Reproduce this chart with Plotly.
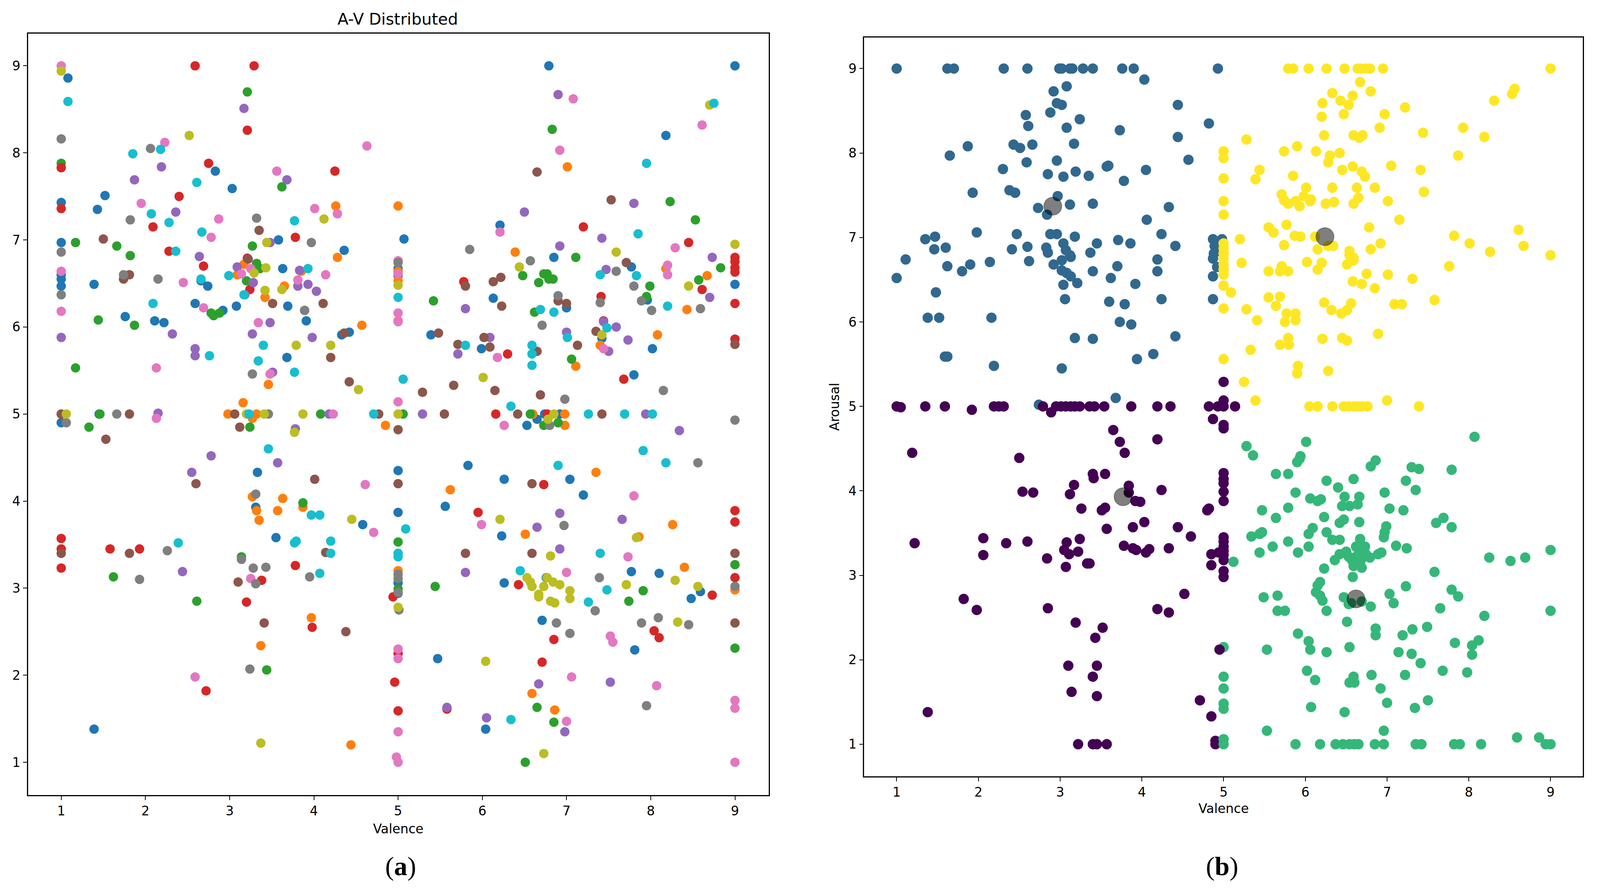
import plotly.graph_objects as go

# panel (a): one colour per group, tab10 order, (valence, arousal)
blue = [(1.08,8.86),(1.52,7.51),(1.43,7.35),(1,7.43),(1,6.97),(1,6.6),(1,6.55),(1,6.47),(2.83,7.79),(3.03,7.59),
        (3.58,7.0),(3.63,6.67),(4.36,6.88),(1.39,6.49),(1.76,6.12),(2.11,6.07),(2.22,6.05),(2.59,6.27),(2.66,6.53),
        (2.74,6.47),(2.92,6.19),(3.08,6.24),(3.69,6.24),(3.91,6.07),(3.68,5.65),(4.33,5.91),(4.42,5.94),(5.07,7.01),
        (5,6.67),(5,6.59),(1.45,5.0),(1,4.9),(6.79,9),(9,9),(8.18,8.2),(6.21,7.17),(6.85,6.8),(7.77,6.69),(7.96,6.31),
        (6.13,6.33),(7,6.22),(5.39,5.91),(5.99,5.75),(8.02,5.75),(7.8,5.45),(9,6.49),(7.42,5.87),(6.74,5.0),(6.92,5),
        (6.65,4.94),(6.53,4.87),(5.83,4.41),(6.26,4.25),(7.04,4.25),(7.2,4.07),(5.56,3.94),(6.23,3.6),(7.77,3.19),
        (8.1,3.17),(6.76,3.12),(6.26,3.06),(8.59,2.96),(8.48,2.88),(6.71,2.63),(7.81,2.29),(5.47,2.19),(6.04,1.38),
        (5,4.35),(5,3.87),(5,3.06),(5,2.94),(1.39,1.38),(3.33,4.33),(3.31,3.93),(3.55,3.58),(4.58,3.73)]
orange = [(4.26,7.39),(5,7.39),(4.28,6.8),(3.85,6.64),(3.65,6.47),(3.42,6.34),(4.57,6.02),(3.46,5.34),(3.16,5.13),
          (2.98,5.0),(3.27,4.95),(3.32,5.0),(3.17,6.72),(3.09,6.6),(4.85,4.87),(1,5),(5,6.07),(5,6.64),(5,6.53),
          (7.01,7.84),(6.39,6.86),(8.67,6.59),(8.18,6.67),(8.43,6.2),(8.08,5.91),(7.4,5.79),(7.11,5.55),(6.98,5),
          (6.98,4.87),(6.6,5),(5.62,4.13),(7.35,4.33),(8.26,3.73),(6.51,3.62),(7.86,3.59),(8.4,3.24),(9,2.98),
          (6.59,1.79),(6.86,1.6),(4.44,1.2),(3.37,2.34),(3.97,2.66),(3.27,4.05),(3.63,4.03),(3.32,3.89),(3.35,3.78),
          (3.57,3.89),(3.87,3.93),(5,3.2)]
green = [(3.21,8.7),(3.62,7.61),(1.17,6.97),(1.66,6.93),(1.82,6.82),(1,7.88),(3.27,6.93),(3.32,6.73),(3.36,6.67),
         (3.2,6.53),(1.44,6.08),(1.87,6.02),(2.78,6.16),(2.81,6.13),(2.88,6.16),(1.17,5.53),(1.46,5),(4.08,5),(5.06,5),
         (1.33,4.85),(3.24,4.85),(6.83,8.27),(8.23,7.44),(8.53,7.23),(7.11,6.8),(6.48,6.59),(6.67,6.51),(6.73,6.61),
         (6.77,6.61),(6.79,6.55),(6.84,6.55),(8.57,6.54),(8.83,6.68),(7.99,6.47),(7.95,6.35),(5.42,6.3),(6.62,6.17),
         (7.06,5.63),(6.57,5),(6.73,4.87),(6.9,4.9),(5.44,3.02),(7.91,2.97),(7.74,2.85),(9,3.27),(9,2.31),(6.65,1.63),
         (6.85,1.46),(6.51,1.0),(5,3.53),(5,2.99),(3.14,3.36),(1.62,3.13),(2.61,2.85),(3.44,2.06),(3.87,3.98)]
red = [(2.59,9),(3.29,9),(3.21,8.26),(2.75,7.88),(1,7.83),(1,7.36),(2.4,7.5),(2.09,7.15),(2.28,6.87),(2.69,6.7),
       (3.21,6.79),(3.24,6.43),(4.25,7.79),(3.78,7.03),(7.2,7.15),(8.45,6.97),(9,6.8),(9,6.75),(9,6.68),(9,6.63),
       (5.78,6.52),(7.41,6.35),(8.61,6.43),(9,6.27),(7.44,6.07),(6.3,5.69),(9,5.86),(7.68,5.4),(6.16,5),(6.77,5),
       (6.73,4.19),(5.95,3.87),(9,3.89),(9,3.76),(6.43,3.04),(9,3.12),(8.73,2.92),(8.04,2.51),(8.1,2.43),(6.85,2.41),
       (6.71,2.15),(5.58,1.61),(1,3.57),(1,3.45),(1,3.23),(1.58,3.45),(1.93,3.45),(3.78,3.26),(3.38,3.09),(3.2,2.84),
       (2.72,1.82),(3.98,2.55),(5,2.25),(4.96,1.92),(5,1.59),(4.94,2.9)]
purple = [(3.17,8.51),(2.19,7.84),(1.87,7.69),(3.68,7.69),(2.36,7.32),(2.64,6.81),(3.09,6.69),(3.28,6.51),(3.48,6.97),
          (3.83,6.65),(3.81,6.47),(3.93,6.49),(4.03,6.41),(1,5.88),(2.32,5.92),(2.59,5.75),(2.59,5.67),(3.27,5.92),
          (3.48,6.05),(3.98,5.88),(3.51,5.48),(2.15,5.01),(4.18,5),(3.78,4.83),(3.18,6.37),(6.9,8.67),(6.5,7.32),
          (7.42,7.02),(6.92,6.93),(8.73,6.8),(7.47,6.66),(5.8,6.21),(8.7,6.34),(7.59,6.0),(7.44,6.06),(7,5.94),
          (7.73,5.85),(6.09,5.88),(5.71,5.69),(7.5,5.72),(7.8,7.42),(5.29,5),(7.94,5),(8.34,4.81),(6.92,3.86),
          (7.66,3.79),(6.65,3.7),(6.92,3.45),(5.8,3.18),(6.67,1.9),(7.52,1.92),(5.58,1.63),(6.05,1.51),(6.98,1.35),
          (2.78,4.52),(2.55,4.33),(3.57,4.44),(2.44,3.19)]
brown = [(1.5,7.01),(3.35,7.11),(3.22,6.78),(1.81,6.6),(1.74,6.55),(3.51,6.27),(4.11,6.27),(3.89,6.19),(4.2,5.65),
         (4.42,5.37),(1,5),(1.81,5),(3.06,5),(3.12,4.85),(4.77,5),(5,4.82),(4.36,5.93),(7.53,7.46),(6.65,7.78),
         (7.71,6.74),(5.8,6.47),(6.13,6.52),(6.22,6.57),(6.23,6.24),(6.9,6.3),(7,6.27),(5.48,5.93),(7.35,5.95),
         (6.02,5.88),(5.71,5.8),(6.09,5.77),(6.65,5.72),(7.13,5.79),(9,5.8),(5.29,5.25),(5.66,5.33),(6.15,5.27),
         (6.69,5.22),(5.55,5),(6.42,5),(7.42,5),(6.59,4.2),(5.8,3.4),(6.59,3.4),(9,3.4),(9,2.6),(1.53,4.71),(2.6,4.2),
         (4.01,4.25),(5,4.2),(1,3.4),(1.81,3.4),(4.14,3.41),(3.1,3.07),(3.41,2.6),(4.38,2.5)]
pink = [(1,9),(2.23,8.12),(4.63,8.08),(3.56,7.79),(1.95,7.42),(4.01,7.36),(4.28,7.3),(2.87,7.24),(2.78,7.03),(1,6.64),
        (2.45,6.51),(3.14,6.61),(3.25,6.67),(4.14,6.6),(3.81,6.54),(2.69,6.22),(1,6.18),(3.34,6.05),(2.13,5.53),
        (3.48,5.46),(5,5.14),(4.23,5),(2.13,4.95),(5,6.76),(5,6.61),(5,6.16),(5,6.06),(7.08,8.62),(6.92,8.03),
        (8.61,8.32),(6.21,7.09),(8.29,6.91),(8.2,6.71),(8.2,6.6),(7.44,5.75),(6.18,5.65),(6.26,4.87),(7.8,4.06),
        (5.99,3.73),(7.73,3.36),(7,3.18),(7.52,2.45),(7.55,2.38),(7.06,1.98),(8.07,1.88),(9,1.71),(9,1.62),(7,1.47),
        (9,1),(4.61,4.19),(4.71,3.64),(3.25,3.11),(2.59,1.98),(5,2.3),(5,2.19),(5,1.35),(4.98,1.06),(5,1.0)]
gray = [(1,8.16),(2.06,8.05),(1.82,7.23),(3.32,7.25),(1,6.86),(3.97,6.97),(1.74,6.6),(2.15,6.55),(1,6.37),(3.89,6.19),
        (3.27,5.46),(1.66,5),(3.46,5),(5,6.74),(1.06,4.9),(5.85,6.89),(6.57,6.76),(7.59,6.64),(7.8,6.47),(7.89,6.3),
        (6.9,6.36),(7.4,6.28),(8.01,6.19),(8.59,6.21),(6.71,6.02),(8.15,5.27),(6.98,5.17),(9,4.93),(6.8,4.87),
        (8.56,4.44),(6.97,3.72),(7.39,3.12),(7.34,2.74),(6.88,2.6),(7.04,2.48),(7.89,2.6),(8.09,2.66),(8.45,2.58),
        (9,3.02),(7.95,1.65),(3.31,4.08),(3.14,3.33),(2.26,3.43),(1.93,3.1),(3.28,3.23),(3.43,3.24),(3.31,3.05),
        (3.95,3.13),(3.24,2.07),(5,3.16),(5,3.11),(5,2.95),(5.01,2.75)]
olive = [(1,8.94),(2.52,8.2),(3.44,6.97),(4.12,7.24),(3.43,6.68),(3.29,6.62),(3.42,6.42),(3.62,6.43),(3.79,5.79),
         (4.2,5.79),(4.53,5.28),(1.06,5),(3.2,5),(3.41,5),(3.87,5),(5,5),(5,6.48),(8.7,8.55),(9,6.95),(6.44,6.69),
         (7.59,6.86),(8.45,6.47),(6.01,5.42),(7.42,5.91),(6.85,5),(6.78,4.94),(6.21,3.79),(7.83,3.58),(6.81,3.37),
         (6.53,3.12),(6.57,3.07),(6.59,3.02),(6.77,3.12),(6.73,3.02),(6.84,3.07),(6.92,3.04),(6.67,2.93),(6.67,2.9),
         (7.04,2.97),(7.04,2.88),(6.81,2.85),(6.86,2.83),(7.71,3.04),(8.29,3.09),(8.56,3.02),(8.32,2.61),(6.04,2.16),
         (6.73,1.1),(4.45,3.79),(3.77,4.79),(3.37,1.22),(5,2.78),(5,3.4)]
cyan = [(1.08,8.59),(1.85,7.99),(2.18,8.04),(2.61,7.66),(2.07,7.3),(2.28,7.2),(2.67,7.09),(2.36,6.87),(3.77,7.22),
        (3.93,6.67),(2.99,6.59),(2.66,6.55),(3.17,6.37),(2.09,6.27),(5,6.34),(3.4,5.79),(2.76,5.67),(3.34,5.61),
        (3.77,5.48),(5.06,5.4),(4.71,5),(3.23,5),(8.75,8.57),(7.95,7.88),(7.85,7.07),(7.4,6.6),(7.83,6.59),(6.69,6.2),
        (6.85,6.17),(7.48,5.99),(7.01,5.88),(5.8,5.79),(6.59,5.79),(6.59,5.69),(6.59,5.56),(8.2,6.24),(6.34,5.09),
        (7.26,5),(7.69,5),(8.02,5),(7.91,4.58),(8.18,4.44),(6.9,4.41),(5.09,3.68),(7.4,3.4),(6.45,3.2),(7.48,2.98),
        (7.26,2.84),(6.34,1.49),(3.46,4.6),(3.97,3.84),(4.07,3.84),(2.39,3.52),(3.79,3.54),(3.77,3.52),(4.2,3.54),
        (4.2,3.4),(4.07,3.17),(5,3.4),(5,3.36)]

# panel (b): k-means clusters
teal = [(1,9),(1.62,9),(1.7,9),(2.31,9),(2.6,9),(2.99,9),(3.02,9),(3.12,9),(3.15,9),(3.28,9),(3.4,9),(3.76,9),(3.9,9),
        (4.93,9),(4.03,8.87),(3.08,8.79),(2.92,8.73),(2.96,8.59),(3.02,8.57),(2.88,8.48),(2.58,8.45),(2.61,8.32),
        (3.24,8.4),(3.08,8.3),(3.73,8.27),(4.44,8.57),(4.44,8.19),(4.82,8.35),(4.57,7.92),(2.43,8.1),(2.51,8.06),
        (2.66,8.1),(3.17,8.11),(1.87,8.08),(1.65,7.97),(2.59,7.89),(2.96,7.91),(2.3,7.81),(2.85,7.75),(3.04,7.72),
        (3.19,7.78),(3.35,7.73),(3.57,7.84),(3.59,7.85),(3.78,7.67),(4.05,7.8),(1.93,7.53),(2.38,7.56),(2.45,7.53),
        (2.97,7.49),(2.73,7.35),(3.12,7.39),(3.4,7.4),(4.33,7.36),(2.84,7.27),(4.06,7.21),(2.47,7.04),(2.88,7.04),
        (2.96,7.04),(3.18,7.01),(4.24,7.04),(1.98,7.06),(1.47,7.01),(1.35,6.98),(1.46,6.86),(1.6,6.88),(1.11,6.74),
        (3.71,6.97),(3.86,6.93),(3.45,6.93),(4.41,6.9),(3.04,6.93),(2.6,6.89),(2.41,6.86),(2.83,6.88),(2.85,6.82),
        (3.07,6.85),(3.37,6.82),(3.12,6.79),(2.62,6.72),(1.62,6.66),(1.9,6.68),(1.8,6.6),(2.14,6.71),(3.13,6.77),
        (3.02,6.73),(2.92,6.68),(3.02,6.61),(3.08,6.58),(3.13,6.54),(3.7,6.66),(4.19,6.74),(4.19,6.6),(3.4,6.6),
        (3.62,6.52),(3.92,6.45),(1,6.52),(3.21,6.46),(3.04,6.44),(1.48,6.35),(3.06,6.27),(3.6,6.24),(3.79,6.21),
        (4.24,6.27),(3.73,6.0),(3.87,5.97),(1.38,6.05),(1.52,6.05),(2.16,6.05),(3.18,5.81),(3.4,5.8),(4.41,5.83),
        (1.59,5.59),(1.62,5.59),(3.94,5.56),(4.14,5.62),(2.19,5.48),(3.02,5.45),(3.68,5.1),(2.74,5.02),(4.87,6.98),
        (4.98,6.98),(4.89,6.9),(4.88,6.81),(4.87,6.75),(4.92,6.65),(4.87,6.54),(4.87,6.27),(4.94,6.84)]
yellow = [(5.79,9),(5.85,9),(6.04,9),(6.26,9),(6.48,9),(6.64,9),(6.68,9),(6.74,9),(6.79,9),(6.95,9),(9,9),(6.67,8.84),
          (6.8,8.73),(6.33,8.71),(6.58,8.68),(6.43,8.62),(6.21,8.59),(6.53,8.57),(6.2,8.43),(6.47,8.46),(6.97,8.46),
          (7.22,8.54),(6.91,8.3),(7.44,8.24),(8.56,8.76),(8.53,8.7),(8.31,8.62),(7.93,8.3),(8.19,8.19),(6.23,8.21),
          (6.59,8.21),(6.66,8.18),(6.7,8.21),(5.28,8.16),(5,8.02),(5,7.94),(5,7.7),(5,7.43),(5,7.27),(5.74,8.02),
          (5.9,8.08),(6.13,8.02),(6.3,7.97),(6.42,8.0),(6.28,7.89),(7.87,7.97),(7.05,7.85),(6.45,7.8),(6.58,7.84),
          (6.69,7.78),(6.73,7.72),(7.41,7.8),(5.44,7.8),(5.39,7.69),(5.85,7.73),(6.01,7.59),(6.33,7.59),(6.63,7.59),
          (6.85,7.59),(7.45,7.54),(5.71,7.51),(5.74,7.44),(5.79,7.4),(5.88,7.43),(5.98,7.49),(5.93,7.37),(6.06,7.43),
          (6.07,7.45),(6.25,7.4),(6.35,7.42),(6.65,7.47),(6.59,7.4),(7.01,7.43),(7.15,7.21),(6.78,7.12),(5.55,7.12),
          (5.61,7.06),(5.77,7.15),(5.87,7.02),(5.94,7.01),(6.12,7.01),(6.28,6.9),(6.34,6.9),(6.15,6.86),(7.82,7.02),
          (8.01,6.93),(8.26,6.83),(8.61,7.09),(8.67,6.9),(9,6.79),(5.2,6.98),(5.74,6.91),(6.92,6.93),(6.8,6.86),
          (6.54,6.84),(6.54,6.79),(6.59,6.76),(6.59,6.73),(6.51,6.68),(5.22,6.7),(6.02,6.71),(6.2,6.7),(6.15,6.62),
          (5.55,6.6),(5.71,6.66),(5.69,6.6),(5.79,6.6),(6.75,6.57),(7.01,6.56),(7.31,6.51),(7.76,6.66),(6.58,6.48),
          (6.69,6.45),(6.85,6.4),(7.58,6.26),(5,6.93),(5,6.87),(5,6.81),(5,6.75),(5,6.68),(5,6.62),(5,6.56),(5,6.43),
          (5.09,6.35),(5,6.16),(5.28,6.15),(5.41,6.02),(5.55,6.29),(5.69,6.3),(5.64,6.19),(5.77,6.1),(5.88,6.1),
          (5.75,6.0),(5.88,6.02),(6.23,6.23),(6.32,6.14),(6.44,6.1),(6.51,6.14),(6.56,6.22),(7.09,6.21),(7.18,6.21),
          (5.79,5.81),(5.69,5.73),(5.8,5.73),(6.21,5.8),(6.45,5.81),(6.51,5.78),(6.89,5.86),(5.33,5.67),(5,5.56),
          (5.91,5.48),(5.9,5.39),(6.28,5.42),(5.25,5.29),(5.39,5.07),(6.05,5),(6.15,5),(6.33,5),(6.47,5),(6.53,5),
          (6.6,5),(6.65,5),(6.69,5),(6.76,5),(7,5.07),(7.39,5)]
violet = [(1,5),(1.05,4.99),(1.35,5),(1.59,5),(2.19,5),(2.25,5),(2.31,5),(2.79,5),(2.95,5),(3.01,5),(3.07,5),(3.13,5),
          (3.18,5),(3.24,5),(3.36,5),(3.42,5),(3.54,5),(3.87,5),(4.19,5),(4.35,5),(4.82,5),(1.92,4.96),(2.89,4.93),
          (4.87,4.85),(5,5.29),(5,5.07),(5,5),(5.14,5),(4.93,5),(5,4.78),(3.65,4.72),(3.73,4.58),(3.79,4.45),(4.19,4.61),
          (1.19,4.45),(2.5,4.39),(3.4,4.2),(3.41,4.15),(3.55,4.2),(3.17,4.07),(3.12,3.96),(2.54,3.99),(2.67,3.98),
          (3.84,4.06),(3.84,3.98),(4.24,4.01),(3.26,3.79),(3.51,3.77),(3.55,3.8),(3.92,3.88),(3.98,3.87),(4.8,3.77),
          (4.82,3.79),(3.57,3.55),(3.89,3.57),(4.03,3.63),(4.44,3.57),(4.6,3.46),(2.06,3.44),(2.06,3.24),(2.34,3.38),
          (2.6,3.4),(1.22,3.38),(3.08,3.39),(3.24,3.43),(3.05,3.3),(3.11,3.25),(3.22,3.28),(3.78,3.35),(3.89,3.32),
          (3.93,3.3),(4.05,3.27),(4.09,3.31),(4.33,3.32),(2.84,3.2),(3.07,3.1),(3.33,3.14),(3.36,3.14),(4.85,3.25),
          (4.85,3.12),(4.52,2.78),(1.82,2.72),(1.98,2.59),(2.85,2.61),(4.19,2.6),(4.33,2.56),(3.19,2.44),(3.52,2.38),
          (3.43,2.26),(3.1,1.93),(3.45,1.93),(3.4,1.8),(3.14,1.62),(3.45,1.57),(1.38,1.38),(4.71,1.52),(4.85,1.33),
          (3.22,1),(3.4,1),(3.45,1),(3.57,1),(4.9,1.04),(4.9,1),(5,4.21),(5,4.14),(5,4.09),(5,3.99),(5,3.88),(5,3.45),
          (5,3.4),(5,3.34),(5,3.29),(5,3.24),(5,3.18),(5,3.05),(5,2.98),(4.94,3.27),(5,4.74)]
mint = [(8.07,4.64),(6.01,4.58),(5.28,4.53),(5.36,4.42),(5.94,4.41),(5.93,4.38),(5.9,4.34),(6.86,4.36),(6.8,4.29),
        (7.3,4.28),(7.39,4.26),(7.79,4.25),(5.64,4.2),(5.79,4.2),(6.26,4.12),(6.59,4.14),(7.23,4.12),(7.35,4.01),
        (6.4,4.04),(5.88,3.98),(6.97,3.98),(6.48,3.93),(6.66,3.93),(6.06,3.91),(6.15,3.88),(6.19,3.9),(6.45,3.82),
        (6.54,3.82),(6.64,3.84),(5.79,3.8),(5.47,3.77),(7.03,3.79),(7.2,3.77),(5.64,3.68),(6.23,3.69),(6.47,3.66),
        (6.42,3.62),(6.66,3.63),(7.69,3.68),(7.6,3.62),(7.79,3.57),(6.99,3.58),(6.97,3.51),(6.96,3.45),(6.09,3.56),
        (6.04,3.49),(6.26,3.51),(6.33,3.42),(6.42,3.42),(5.47,3.51),(5.44,3.49),(5.34,3.46),(6.67,3.43),(5.79,3.4),
        (5.6,3.34),(6.04,3.34),(7.11,3.35),(7.24,3.32),(5.91,3.27),(5.44,3.27),(6.62,3.34),(6.73,3.34),(6.66,3.27),
        (6.74,3.25),(6.62,3.22),(6.68,3.18),(6.79,3.21),(6.59,3.11),(6.69,3.09),(6.65,3.16),(6.5,3.28),(6.42,3.25),
        (6.53,3.22),(6.57,3.18),(6.36,3.18),(6.89,3.25),(6.93,3.27),(5.12,3.16),(6.23,3.08),(8.25,3.21),(8.51,3.17),
        (8.69,3.21),(9,3.3),(7.58,3.04),(6.58,2.98),(6.18,2.92),(6.15,2.88),(7.23,2.87),(6.13,2.8),(6.18,2.76),
        (6.21,2.7),(6.26,2.58),(5.49,2.74),(5.66,2.76),(5.66,2.58),(5.75,2.58),(7.79,2.83),(7.87,2.75),(7.65,2.61),
        (7.03,2.78),(7.08,2.67),(6.47,2.74),(6.53,2.66),(6.56,2.67),(6.69,2.69),(6.8,2.63),(9,2.58),(8.19,2.52),
        (6.51,2.45),(6.86,2.37),(6.86,2.29),(7.49,2.39),(7.31,2.36),(7.19,2.29),(5.91,2.31),(6.04,2.22),(6.06,2.12),
        (6.26,2.09),(5.53,2.12),(6.54,2.15),(5,2.15),(7.83,2.2),(8.12,2.23),(8.04,2.17),(8.04,2.06),(7.14,2.09),
        (7.3,2.07),(7.41,1.96),(7.68,1.87),(7.98,1.85),(6.02,1.87),(6.12,1.76),(6.59,1.8),(6.54,1.73),(6.6,1.73),
        (6.81,1.82),(7.22,1.82),(6.92,1.66),(7,1.49),(7.5,1.52),(7.34,1.43),(6.07,1.44),(6.48,1.38),(5,1.8),(5,1.66),
        (5,1.48),(5,1.42),(5.53,1.16),(6.96,1.16),(5,1.06),(5,1),(5.88,1),(6.18,1),(6.37,1),(6.46,1),(6.54,1),(6.6,1),
        (6.65,1),(6.85,1),(6.96,1),(7.35,1),(7.42,1),(7.82,1),(7.89,1),(8.15,1),(8.94,1),(9,1),(8.59,1.08),(8.86,1.08)]
violet_top = [(4.95,2.12)]
centroids = [(2.91,7.37),(6.24,7.01),(3.77,3.93),(6.62,2.72)]

tick_vals = [1, 2, 3, 4, 5, 6, 7, 8, 9]

W, H = 4236, 2278

left_groups = [(blue, "#1f77b4"), (orange, "#ff7f0e"), (green, "#2ca02c"), (red, "#d62728"), (purple, "#9467bd"),
               (brown, "#8c564b"), (pink, "#e377c2"), (gray, "#7f7f7f"), (olive, "#bcbd22"), (cyan, "#17becf")]
right_groups = [(teal, "#31688e"), (yellow, "#fde725"), (violet, "#440154"), (mint, "#35b779"), (violet_top, "#440154")]

fig = go.Figure()
for pts, col in left_groups:
    fig.add_trace(go.Scatter(x=[p[0] for p in pts], y=[p[1] for p in pts], mode="markers", xaxis="x", yaxis="y",
                             marker=dict(color=col, size=24)))
for pts, col in right_groups:
    fig.add_trace(go.Scatter(x=[p[0] for p in pts], y=[p[1] for p in pts], mode="markers", xaxis="x2", yaxis="y2",
                             marker=dict(color=col, size=26.5)))
fig.add_trace(go.Scatter(x=[p[0] for p in centroids], y=[p[1] for p in centroids], mode="markers", xaxis="x2", yaxis="y2",
                         marker=dict(color="rgba(0,0,0,0.5)", size=46, line=dict(color="rgba(0,0,0,0.35)", width=2))))

axis_style = dict(tickmode="array", tickvals=tick_vals, showgrid=False, zeroline=False, showline=True, mirror=True,
                  linecolor="black", linewidth=2.5, ticks="outside", ticklen=10, tickwidth=2, tickcolor="black",
                  tickfont=dict(family="DejaVu Sans", size=33, color="black"))
title_font = dict(family="DejaVu Sans", size=33, color="black")
caption_font = dict(family="Liberation Serif", size=68, color="black")

fig.update_layout(
    margin=dict(l=0, r=0, t=0, b=0), showlegend=False,
    paper_bgcolor="white", plot_bgcolor="white",
    xaxis=dict(domain=[74/W, 2035/W], range=[0.605, 9.4], anchor="y",
               title=dict(text="Valence", font=title_font, standoff=16), **axis_style),
    yaxis=dict(domain=[1-2035/H, 1-86/H], range=[0.623, 9.37], anchor="x", **axis_style),
    xaxis2=dict(domain=[2288/W, 4191/W], range=[0.603, 9.397], anchor="y2",
                title=dict(text="Valence", font=title_font, standoff=12), **axis_style),
    yaxis2=dict(domain=[1-1987/H, 1-95.5/H], range=[0.62, 9.37], anchor="x2",
                title=dict(text="Arousal", font=title_font, standoff=14), **axis_style),
    title=dict(text="A-V Distributed", font=dict(family="DejaVu Sans", size=41, color="black"),
               x=1053/W, y=1-49/H, xanchor="center", yanchor="middle"),
    annotations=[
        dict(text="(<b>a</b>)", x=1061/W, y=1-2217/H, xref="paper", yref="paper", showarrow=False,
             xanchor="center", yanchor="middle", font=caption_font),
        dict(text="(<b>b</b>)", x=3235/W, y=1-2217/H, xref="paper", yref="paper", showarrow=False,
             xanchor="center", yanchor="middle", font=caption_font),
    ],
)

# no body margin so the plot fills the window exactly
fig.write_html("out.html", default_width="100%", default_height=f"{H}px", config={"displayModeBar": False},
               post_script="document.body.style.margin='0';Plotly.Plots.resize(document.querySelector('.plotly-graph-div'));")
